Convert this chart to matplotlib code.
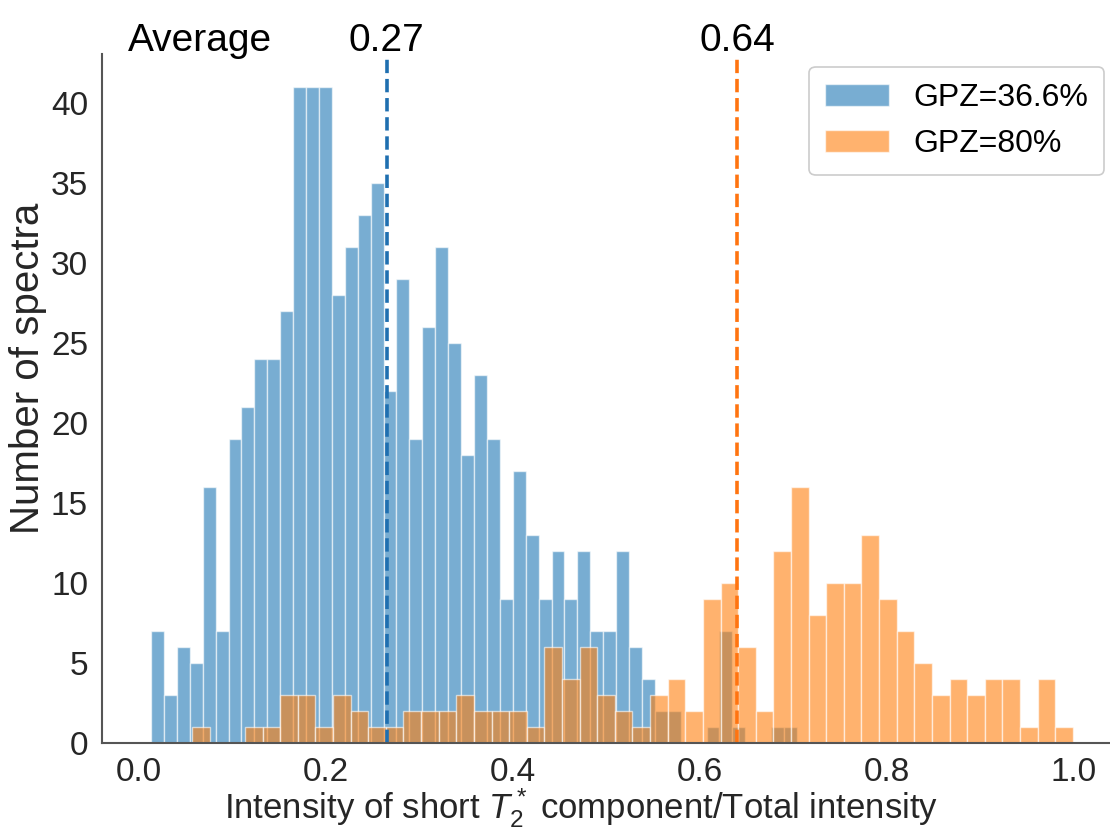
import numpy as np
import matplotlib
matplotlib.use("Agg")
import matplotlib.pyplot as plt

# histogram counts for the two samples (50 equal bins each)
blue_counts = [7, 3, 6, 5, 16, 7, 19, 21, 24, 24,
               27, 41, 41, 41, 28, 31, 33, 35, 22, 29,
               19, 26, 31, 25, 18, 23, 19, 9, 17, 13,
               9, 12, 9, 12, 7, 7, 12, 6, 4, 2,
               2, 0, 0, 1, 7, 1, 0, 0, 1, 1]
blue_range = (0.0128, 0.7038)

orange_counts = [1, 0, 0, 1, 1, 3, 3, 1, 3, 2,
                 1, 1, 2, 2, 2, 3, 2, 2, 2, 1,
                 6, 4, 6, 3, 2, 1, 3, 4, 2, 9,
                 10, 6, 2, 12, 16, 8, 10, 10, 13, 9,
                 7, 5, 3, 4, 3, 4, 4, 1, 4, 1]
orange_range = (0.0567, 0.9989)

labels = ["GPZ=36.6%", "GPZ=80%"]
means = [0.265, 0.64]

plt.rcParams['font.family'] = ['Liberation Sans', 'DejaVu Sans']
plt.rcParams['mathtext.fontset'] = 'custom'
plt.rcParams['mathtext.it'] = 'Liberation Sans:italic'
plt.rcParams['mathtext.rm'] = 'Liberation Sans'

fig = plt.figure(figsize=(11.1, 8.34), dpi=100)
ax = fig.add_axes([0.0919, 0.1091, 0.916, 0.826])

for counts, rng, col, lab in [(blue_counts, blue_range, 'tab:blue', labels[0]),
                              (orange_counts, orange_range, 'tab:orange', labels[1])]:
    edges = np.linspace(rng[0], rng[1], len(counts) + 1)
    ax.hist(edges[:-1], bins=edges, weights=counts, color=col, alpha=0.6,
            edgecolor='white', linewidth=1.0, label=lab)

ax.axvline(means[0], color='#1f6fb0', ls='--', lw=2.6, clip_on=False)
ax.axvline(means[1], color='#ff7410', ls='--', lw=2.6, clip_on=False)

# averages written above the plot
ax.text(-0.012, 1.005, "Average", transform=ax.get_xaxis_transform(),
        ha='left', va='baseline', fontsize=28)
for m in means:
    ax.text(m, 1.005, f"{m:.2f}", transform=ax.get_xaxis_transform(),
            ha='center', va='baseline', fontsize=28)

ax.set_xlim(-0.0396, 1.048)
ax.set_ylim(0, 43.05)
ax.set_yticks(range(0, 41, 5))
ax.set_xticks([0.0, 0.2, 0.4, 0.6, 0.8, 1.0])
ax.tick_params(length=0, labelsize=24, colors='#262626', pad=10)

for s in ['top', 'right']:
    ax.spines[s].set_visible(False)
for s in ['left', 'bottom']:
    ax.spines[s].set_color('#555555')
    ax.spines[s].set_linewidth(1.5)

ax.set_xlabel(r"Intensity of short $T_2^*$ component/Total intensity",
              fontsize=25, color='#262626')
ax.xaxis.set_label_coords(0.471, -0.063)
ax.set_ylabel("Number of spectra", fontsize=29, color='#262626')
ax.yaxis.set_label_coords(-0.054, 0.544)

leg = ax.legend(loc='upper right', bbox_to_anchor=(1104 / 1110, 1 - 67 / 834),
                bbox_transform=fig.transFigure, borderaxespad=0, fontsize=23,
                handlelength=2.0, handletextpad=0.75, labelspacing=0.5,
                borderpad=0.5, fancybox=True, framealpha=1)
leg.get_frame().set_edgecolor('#cccccc')
leg.get_frame().set_linewidth(1.2)

fig.savefig("out.png", dpi=100)
